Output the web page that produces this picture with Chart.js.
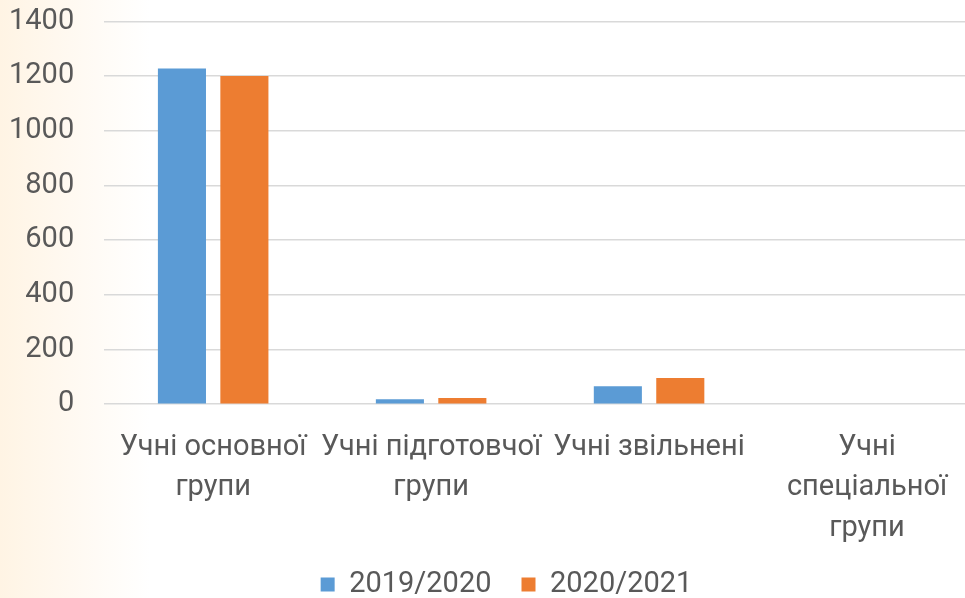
<!DOCTYPE html>
<html>
<head>
<meta charset="utf-8">
<script src="https://cdn.jsdelivr.net/npm/chart.js@4/dist/chart.umd.min.js"></script>
<style>
  html, body { margin: 0; padding: 0; }
  body {
    width: 965px; height: 598px; overflow: hidden;
    background: linear-gradient(to right, #fff4e4 0px, #fff9f1 70px, #ffffff 150px);
  }
  /* the plot in the original runs a little past the right edge */
  #wrap { position: relative; width: 976px; height: 598px; }
</style>
</head>
<body>
<div id="wrap"><canvas id="chart"></canvas></div>
<script>
// Chart data
const categories = [
  ['Учні основної', 'групи'],
  ['Учні підготовчої', 'групи'],
  ['Учні звільнені'],
  ['Учні', 'спеціальної', 'групи']
];
const seriesNames = ['2019/2020', '2020/2021'];
const values2019 = [1228, 18, 66, 0];
const values2020 = [1200, 23, 96, 0];
const yTicks = [0, 200, 400, 600, 800, 1000, 1200, 1400];

const textColor = '#595959';
const fontFamily = 'Roboto, "Noto Sans", sans-serif';
const fontSize = 29;

// nudge the legend so it sits where the original has it
const legendShift = {
  id: 'legendShift',
  afterLayout(chart) {
    const lg = chart.legend;
    if (!lg) return;
    lg.left += 32;
    lg.top -= 32;
    lg.bottom -= 32;
  }
};

const ctx = document.getElementById('chart').getContext('2d');
new Chart(ctx, {
  type: 'bar',
  data: {
    labels: categories,
    datasets: [
      {
        label: seriesNames[0],
        data: values2019,
        backgroundColor: '#5B9BD5',
        categoryPercentage: 0.573,
        barPercentage: 0.77
      },
      {
        label: seriesNames[1],
        data: values2020,
        backgroundColor: '#ED7D31',
        categoryPercentage: 0.573,
        barPercentage: 0.77
      }
    ]
  },
  options: {
    responsive: true,
    maintainAspectRatio: false,
    animation: false,
    layout: { padding: { top: 0, right: 0, left: 5, bottom: -43 } },
    plugins: {
      tooltip: { enabled: false },
      legend: {
        position: 'bottom',
        labels: {
          color: textColor,
          font: { family: fontFamily, size: fontSize },
          boxWidth: 14,
          boxHeight: 14,
          padding: 30
        }
      }
    },
    scales: {
      x: {
        grid: { display: false, drawTicks: false },
        border: { display: false },
        ticks: {
          color: textColor,
          font: { family: fontFamily, size: fontSize, lineHeight: 1.4 },
          maxRotation: 0,
          minRotation: 0,
          autoSkip: false,
          padding: 23
        }
      },
      y: {
        min: 0,
        max: 1400,
        afterBuildTicks(scale) {
          scale.ticks = yTicks.map(v => ({ value: v }));
        },
        grid: {
          color: '#D9D9D9',
          lineWidth: 1.5,
          drawTicks: true,
          tickLength: 26,
          tickColor: 'rgba(0,0,0,0)'
        },
        border: { display: false },
        ticks: {
          color: textColor,
          font: { family: fontFamily, size: fontSize },
          padding: 4,
          callback: value => String(value)
        }
      }
    }
  },
  plugins: [legendShift]
});
</script>
</body>
</html>
